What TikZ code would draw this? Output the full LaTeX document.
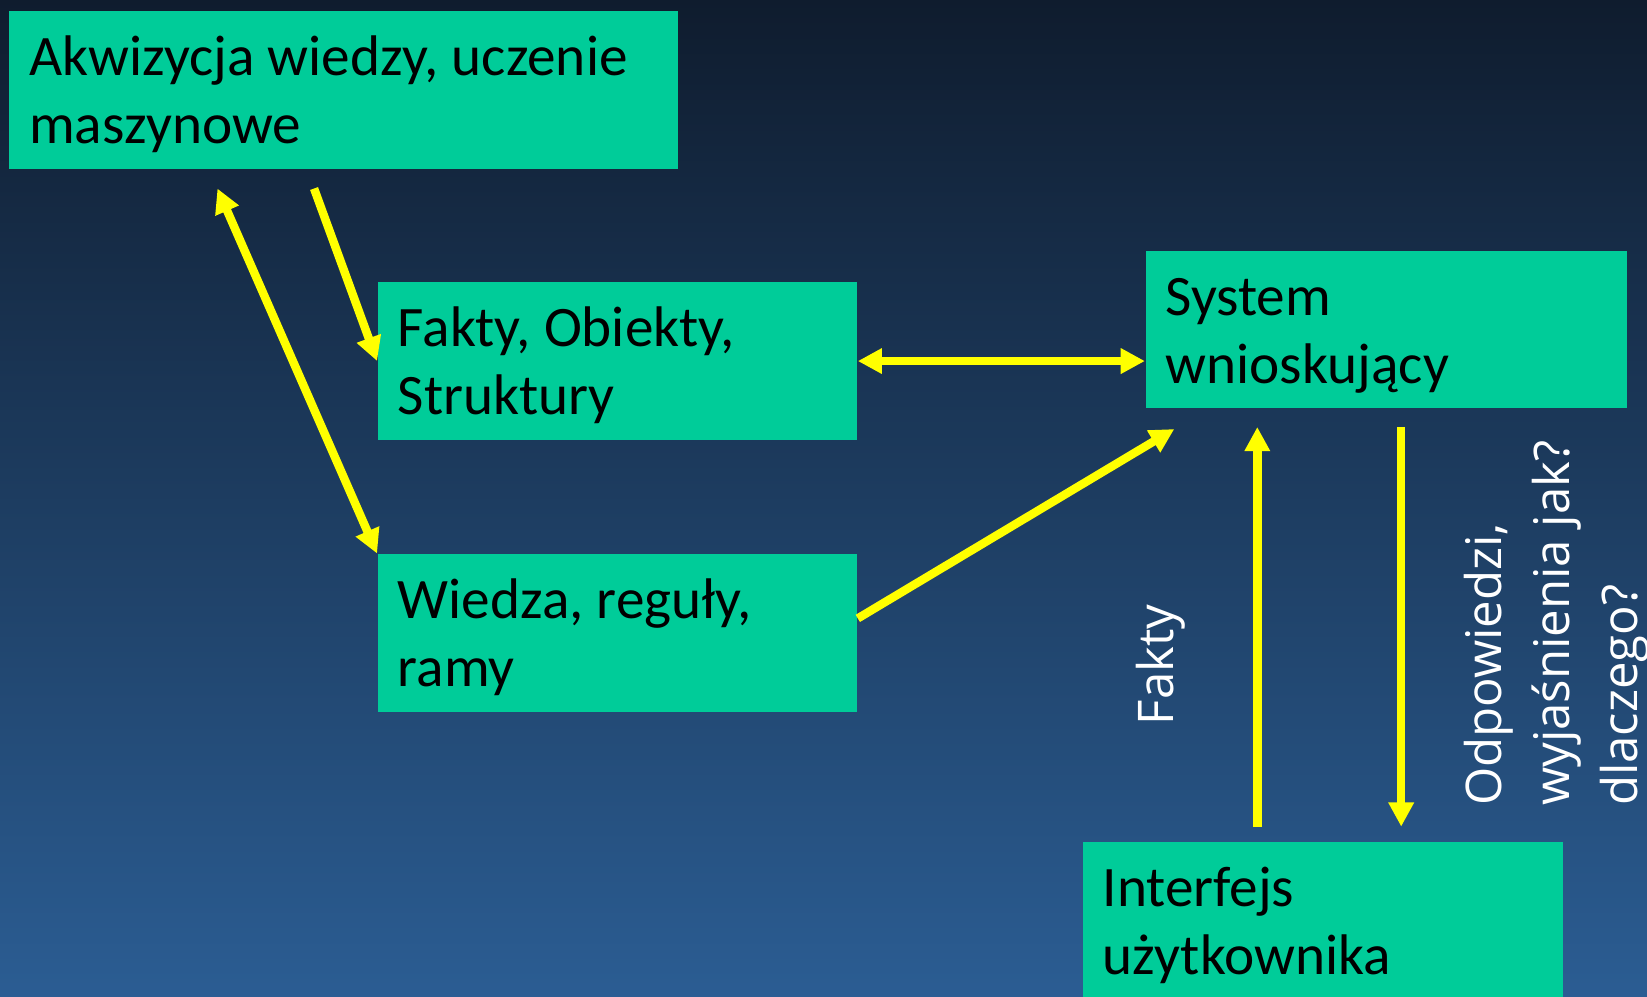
\documentclass[tikz,border=0pt]{standalone}
\usepackage{fontspec}
\setmainfont{Carlito}
\newfontfamily\labelfont{Open Sans}
\usepackage{tikz}
\usetikzlibrary{arrows.meta}
\usetikzlibrary{calc}
\usetikzlibrary{positioning}

\definecolor{bgtop}{HTML}{0F1C2E}
\definecolor{bgbottom}{HTML}{2B5D93}
\definecolor{boxgreen}{HTML}{00CC99}
\definecolor{arrowyellow}{HTML}{FFFF00}

\tikzset{
	greenbox/.style={fill=boxgreen, draw=none, rectangle, anchor=north west,
		minimum height=1.5cm, inner xsep=0.19cm, inner ysep=0pt, align=flush left,
		text height=0.615cm, text depth=0.885cm,
		font=\fontsize{15.5pt}{18.4pt}\selectfont, text=black},
	yarrow/.style={draw=arrowyellow, line width=0.08cm,
		-{Triangle[width=0.23cm,length=0.23cm]}},
	ylabel/.style={text=white, rotate=90, inner sep=0pt, align=flush left,
		font=\labelfont\fontsize{13.3pt}{18.4pt}\selectfont}
}

\begin{document}
\begin{tikzpicture}[x=0.01cm,y=-0.01cm]

	% background
	\shade[top color=bgtop, bottom color=bgbottom] (0,0) rectangle (1568,949);
	\useasboundingbox (0,0) rectangle (1568,949);

	% boxes
	\node[greenbox, text width=5.98cm] (akw) at (8,10) {Akwizycja wiedzy, uczenie\\maszynowe};
	\node[greenbox, text width=4.18cm] (fakty) at (359,268) {Fakty, Obiekty,\\Struktury};
	\node[greenbox, text width=4.18cm] (wiedza) at (359,527) {Wiedza, reguły,\\ramy};
	\node[greenbox, text width=4.20cm] (system) at (1090,238) {System\\wnioskujący};
	\node[greenbox, text width=4.19cm] (interf) at (1030,801) {Interfejs\\użytkownika};

	% free ends of the arrows
	\coordinate (akwOut) at ($(akw.south west)+(291,18)$);
	\coordinate (akwIn) at ($(akw.south west)+(199,18)$);
	\coordinate (sysIn) at ($(system.south west)+(28,19)$);
	\coordinate (sysUp) at ($(system.south west)+(107,17)$);
	\coordinate (sysDown) at ($(system.south west)+(244,17)$);
	\coordinate (intUp) at ($(interf.north west)+(167,-14)$);
	\coordinate (intDown) at ($(interf.north west)+(304,-14)$);

	% arrows
	\draw[yarrow] (akwOut) -- (fakty.west);
	\draw[yarrow, {Triangle[width=0.23cm,length=0.23cm]}-{Triangle[width=0.23cm,length=0.23cm]}] (akwIn) -- (wiedza.north west);
	\draw[yarrow, {Triangle[width=0.23cm,length=0.23cm]}-{Triangle[width=0.23cm,length=0.23cm]}] (fakty.east) -- (fakty.east -| system.west);
	\draw[yarrow] ($(wiedza.east)+(0,-14)$) -- (sysIn);
	\draw[yarrow] (intUp) -- (sysUp);
	\draw[yarrow] (sysDown) -- (intDown);

	% labels
	\node[ylabel] (faktyLbl) at (1105,633) {Fakty};
	\node[ylabel, anchor=west] (odpLbl) at (1482,768) {Odpowiedzi,\\wyjaśnienia jak?\\dlaczego?};

\end{tikzpicture}
\end{document}
